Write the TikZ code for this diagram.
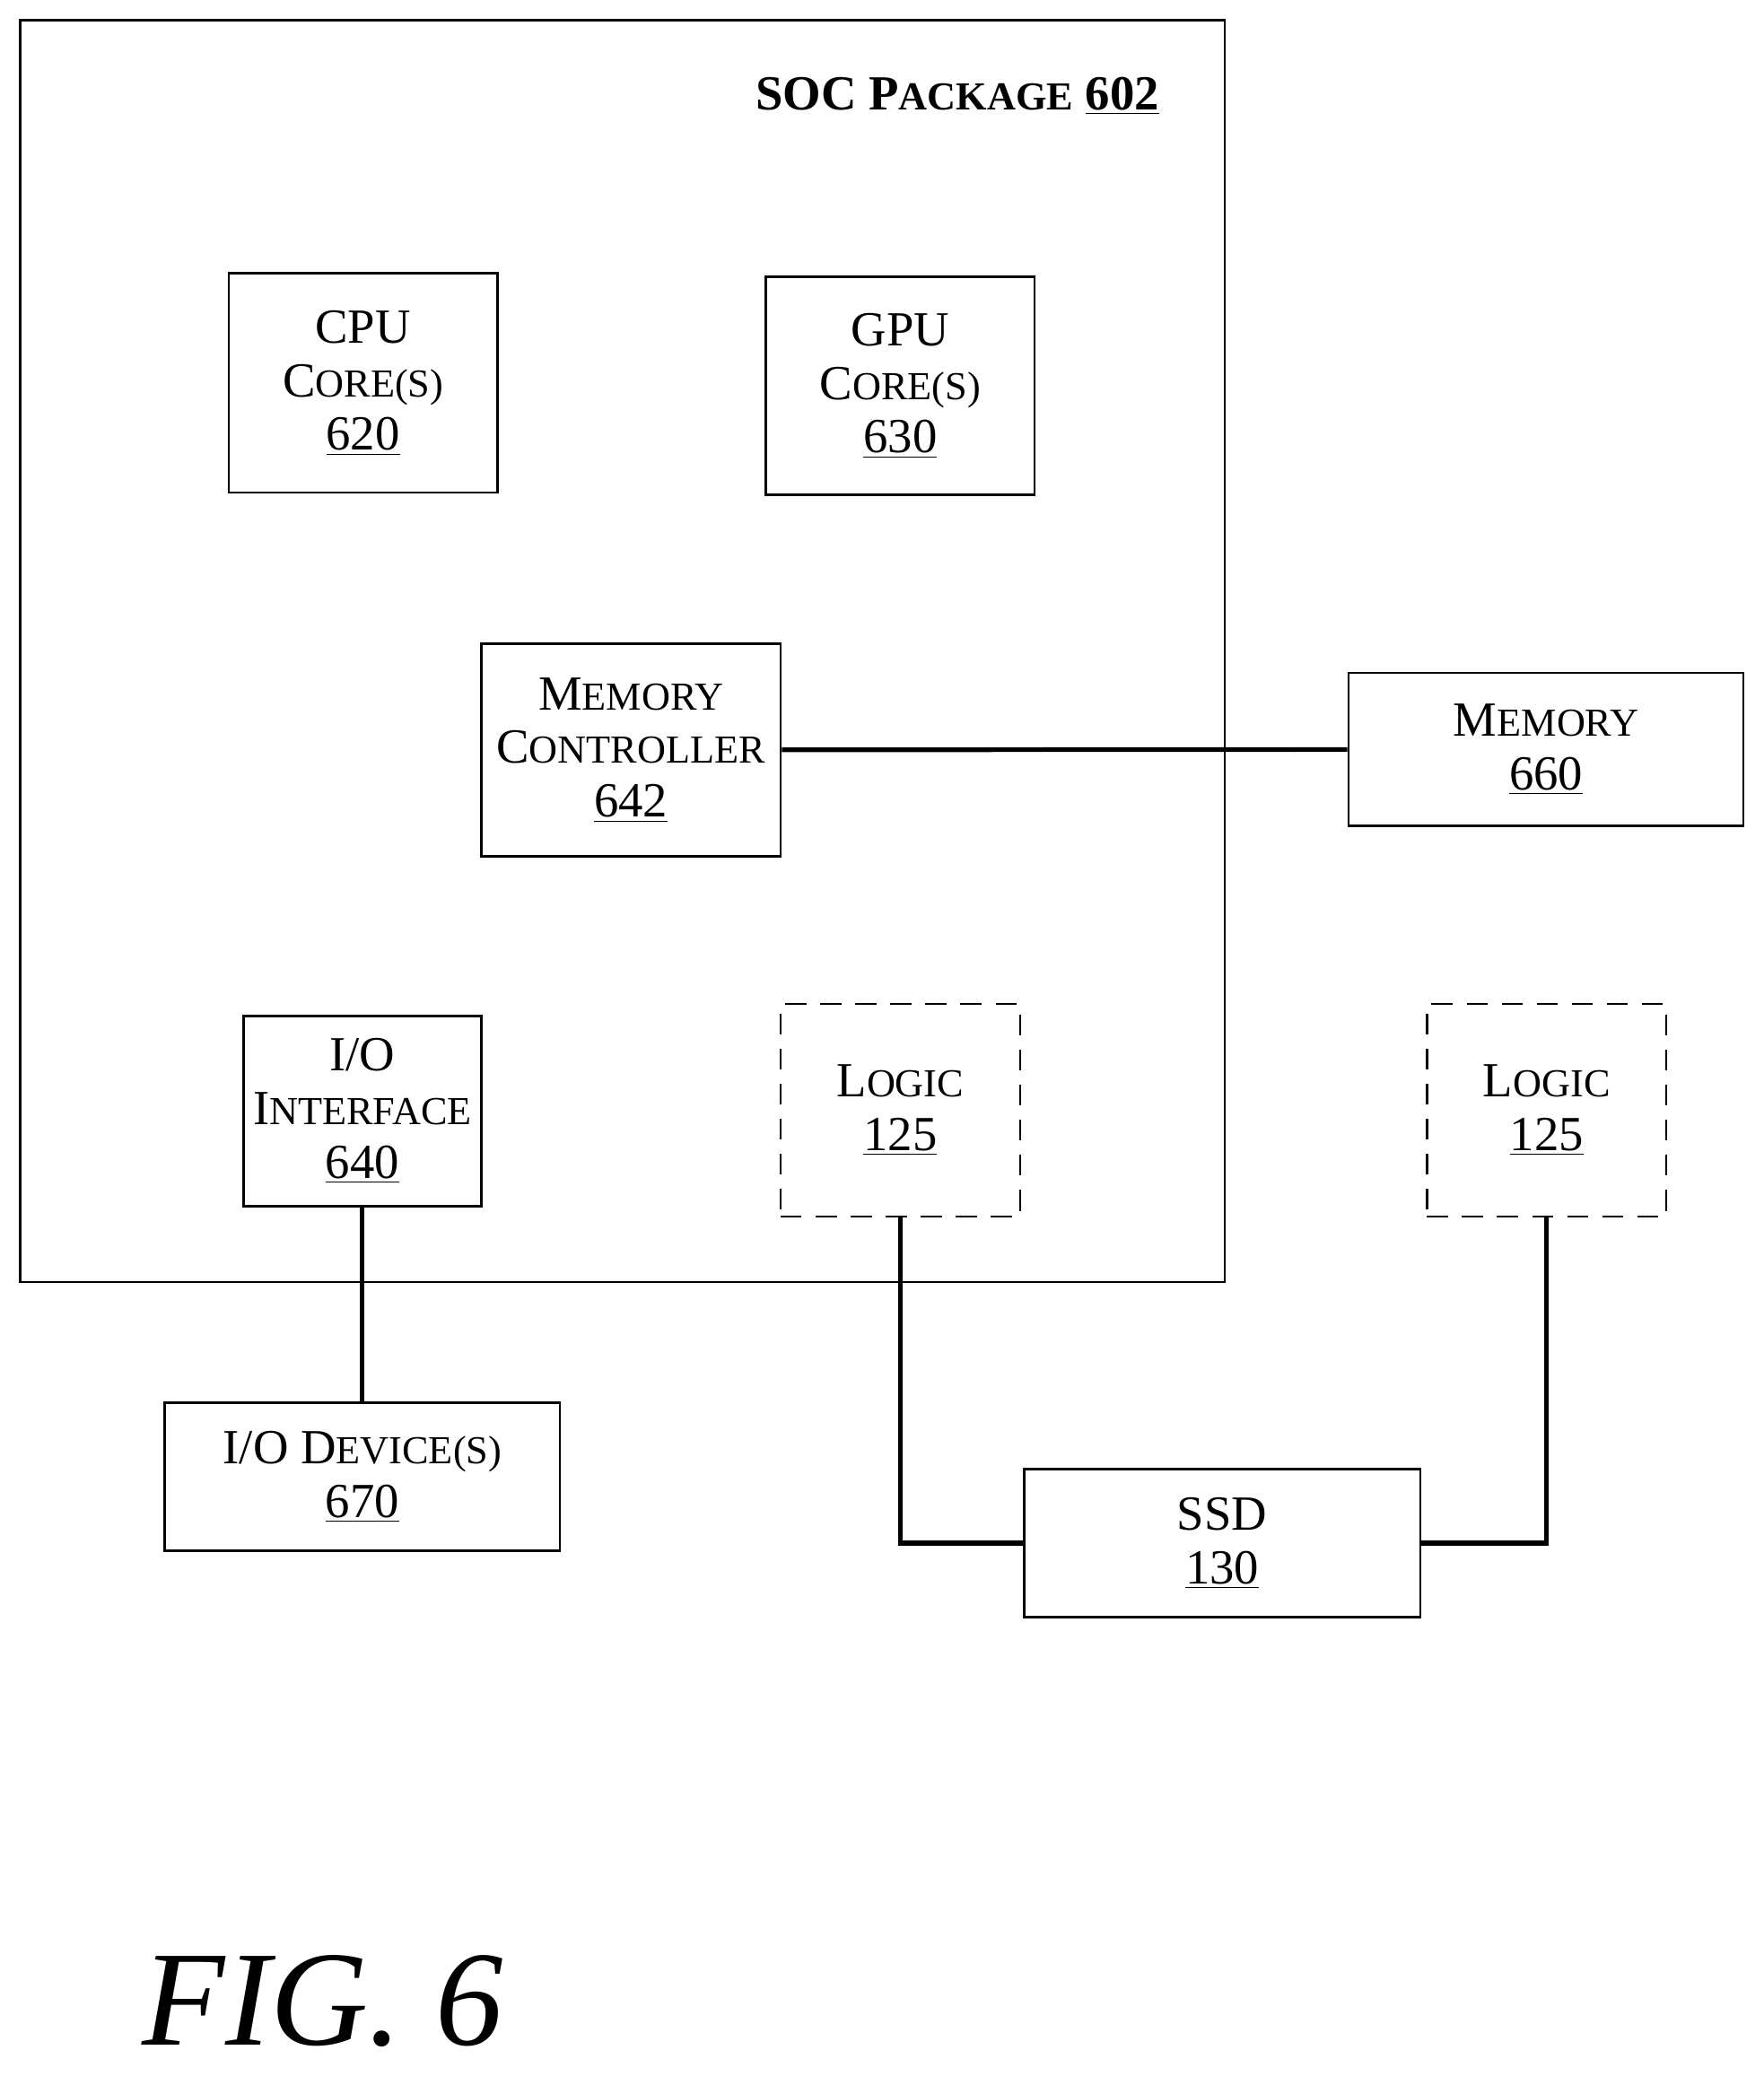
\documentclass[tikz,border=0pt]{standalone}
\usepackage{fontspec}
\setmainfont{Liberation Serif}
\newcommand{\fsc}[2]{#1{\fontsize{17}{23}\selectfont#2}}
\begin{document}
\begin{tikzpicture}[x=0.02cm,y=-0.02cm]
\tikzstyle{block}=[draw=black,line width=1pt,align=center,font=\fontsize{21}{23}\selectfont,inner sep=0pt]
\tikzstyle{logicblk}=[block,dashed,dash pattern=on 9pt off 6pt]
\tikzstyle{wire}=[line width=2pt]
\useasboundingbox (0,0) rectangle (1326,1568);

\draw[line width=1pt] (15,15) rectangle (921,964);
\node[font=\fontsize{21}{23}\selectfont\bfseries] (title) at (720,72) {\fsc{SOC P}{ACKAGE} \underline{602}};

\node[block,minimum width=202*0.02cm,minimum height=165*0.02cm] (cpu) at (273,288) {CPU\\\fsc{C}{ORE(S)}\\\underline{620}};
\node[block,minimum width=202*0.02cm,minimum height=164*0.02cm] (gpu) at (677,290) {GPU\\\fsc{C}{ORE(S)}\\\underline{630}};
\node[block,minimum width=225*0.02cm,minimum height=160*0.02cm] (memctrl) at (474.5,564) {\fsc{M}{EMORY}\\\fsc{C}{ONTROLLER}\\\underline{642}};
\node[block,minimum width=297*0.02cm,minimum height=115*0.02cm] (memory) at (1162.5,563.5) {\fsc{M}{EMORY}\\\underline{660}};
\node[block,minimum width=179*0.02cm,minimum height=143*0.02cm] (ioif) at (272.5,835.5) {I/O\\\fsc{I}{NTERFACE}\\\underline{640}};
\node[logicblk,minimum width=180*0.02cm,minimum height=160*0.02cm] (logicin) at (677,835) {\fsc{L}{OGIC}\\\underline{125}};
\node[logicblk,minimum width=180*0.02cm,minimum height=160*0.02cm] (logicout) at (1163,835) {\fsc{L}{OGIC}\\\underline{125}};
\node[block,minimum width=297*0.02cm,minimum height=111*0.02cm] (iodev) at (272.5,1110.5) {I/O \fsc{D}{EVICE(S)}\\\underline{670}};
\node[block,minimum width=298*0.02cm,minimum height=111*0.02cm] (ssd) at (919,1160.5) {SSD\\\underline{130}};

\draw[wire] (memctrl) -- (memory);
\draw[wire] (ioif) -- (iodev);
\draw[wire] (logicin) |- (ssd);
\draw[wire] (logicout) |- (ssd);

\node[font=\fontsize{58}{60}\selectfont\itshape] (fig) at (243,1505) {FIG. 6};
\end{tikzpicture}
\end{document}
